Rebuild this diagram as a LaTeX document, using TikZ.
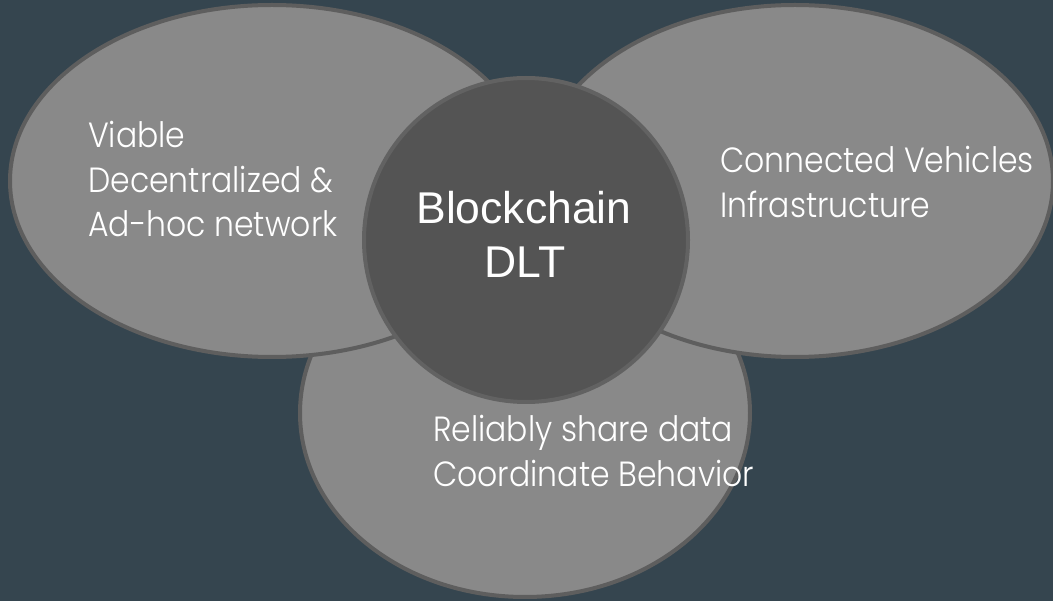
\documentclass[tikz,border=0pt]{standalone}
\usepackage{fontspec}
\setmainfont{Liberation Sans}
\newfontfamily\thinfont[FakeStretch=0.9]{Poppins Light}
\usetikzlibrary{shapes.geometric}
\definecolor{bg}{HTML}{35454F}
\definecolor{petalfill}{HTML}{898989}
\definecolor{petaledge}{HTML}{5E5E5E}
\definecolor{corefill}{HTML}{545454}
\definecolor{coreedge}{HTML}{626262}
\tikzset{
  petal/.style={ellipse, draw=petaledge, fill=petalfill, line width=4pt, inner sep=0pt},
  thintext/.style={text=white, inner sep=0pt, anchor=base west, font=\thinfont\fontsize{35}{40}\selectfont},
  coretext/.style={text=white, inner sep=0pt, anchor=base, font=\fontsize{44.5}{54}\selectfont}
}
\begin{document}
\begin{tikzpicture}[x=1pt,y=-1pt]
\fill[bg] (0,0) rectangle (1053,601);
\useasboundingbox (0,0) rectangle (1053,601);
\node[petal, minimum width=450pt, minimum height=368pt] (bottom) at (525,413) {};
\node[petal, minimum width=516pt, minimum height=352pt] (right) at (795,181) {};
\node[petal, minimum width=524pt, minimum height=352pt] (left) at (272,181) {};
\node[circle, draw=coreedge, fill=corefill, line width=4pt, inner sep=0pt, minimum size=324pt] (core) at (526,240) {};
\node[coretext] (c1) at (524,224) {Blockchain};
\node[coretext] (c2) at (525,278) {DLT};
\node[thintext] (l1) at (88,148) {Viable};
\node[thintext] (l2) at (88,193) {Decentralized \&};
\node[thintext] (l3) at (88,237) {Ad-hoc network};
\node[thintext] (r1) at (720,173) {Connected Vehicles};
\node[thintext] (r2) at (720,218) {Infrastructure};
\node[thintext] (b1) at (433,442) {Reliably share data};
\node[thintext] (b2) at (433,487) {Coordinate Behavior};
\end{tikzpicture}
\end{document}
